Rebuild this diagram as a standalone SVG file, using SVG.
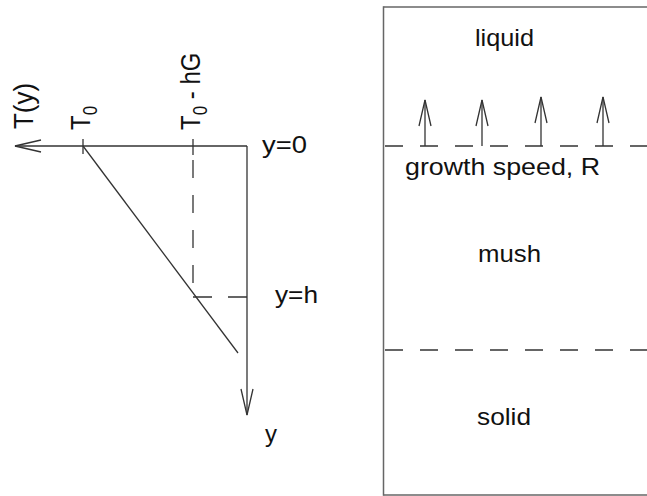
<svg xmlns="http://www.w3.org/2000/svg" width="647" height="496" viewBox="0 0 647 496">
  <defs>
    <style>
      .ln { stroke: #333; stroke-width: 1.3; fill: none; }
      .dash { stroke: #333; stroke-width: 1.3; fill: none; stroke-dasharray: 18 17; }
      .box { stroke: #666; stroke-width: 1.5; fill: none; }
      .t { font-family: "Liberation Sans", Arial, sans-serif; font-size: 24px; fill: #111; }
      .sub { font-size: 17px; }
    </style>
    <marker id="open" markerUnits="userSpaceOnUse" markerWidth="30" markerHeight="16" viewBox="-27 -8 30 16" refX="0" refY="0" orient="auto">
      <path d="M-26,-6 L0,0 L-26,6" fill="none" stroke="#333" stroke-width="1.3"/>
    </marker>
  </defs>
  <rect width="647" height="496" fill="#fff"/>

  <g id="temperature-plot">
    <g id="axes">
      <line class="ln" x1="247" y1="146" x2="15" y2="146" marker-end="url(#open)"/>
      <line class="ln" x1="247" y1="146" x2="247" y2="415" marker-end="url(#open)"/>
    </g>
    <g id="ticks">
      <line class="ln" x1="83" y1="139" x2="83" y2="154"/>
      <line class="ln" x1="193" y1="139" x2="193" y2="155"/>
    </g>
    <g id="profile">
      <line class="ln" x1="83" y1="146" x2="238" y2="353"/>
      <line class="dash" x1="193" y1="160" x2="193" y2="297"/>
      <line class="ln" x1="247" y1="297" x2="193" y2="297" style="stroke-dasharray:19 16"/>
    </g>
    <g id="axis-labels">
      <text class="t" transform="translate(33,129) rotate(-90) scale(1,1.15)" textLength="46" lengthAdjust="spacingAndGlyphs">T(y)</text>
      <text class="t" transform="translate(90,130) rotate(-90) scale(1,1.15)">T<tspan class="sub" dy="6">0</tspan></text>
      <text class="t" transform="translate(200,130) rotate(-90) scale(1,1.15)">T<tspan class="sub" dy="6">0</tspan><tspan dy="-6"> - hG</tspan></text>
      <text class="t" x="262" y="153" textLength="45" lengthAdjust="spacingAndGlyphs">y=0</text>
      <text class="t" x="275" y="303" textLength="43" lengthAdjust="spacingAndGlyphs">y=h</text>
      <text class="t" x="265" y="442">y</text>
    </g>
  </g>

  <g id="solidification-box">
    <g id="box-outline">
      <line class="box" x1="383.5" y1="7" x2="647" y2="7"/>
      <line class="box" x1="383.5" y1="6.25" x2="383.5" y2="495.75"/>
      <line class="box" x1="383.5" y1="495" x2="647" y2="495"/>
    </g>
    <g id="liquid">
      <text class="t" x="475" y="46" textLength="59" lengthAdjust="spacingAndGlyphs">liquid</text>
    </g>
    <g id="front">
      <line class="dash" x1="385" y1="146" x2="647" y2="146"/>
      <text class="t" x="405" y="175" textLength="195" lengthAdjust="spacingAndGlyphs">growth speed, R</text>
    </g>
    <g id="mush">
      <text class="t" x="478" y="262" textLength="63" lengthAdjust="spacingAndGlyphs">mush</text>
    </g>
    <g id="solid-boundary">
      <line class="dash" x1="385" y1="350" x2="647" y2="350"/>
    </g>
    <g id="solid">
      <text class="t" x="477" y="425" textLength="54" lengthAdjust="spacingAndGlyphs">solid</text>
    </g>
  </g>

  <g id="connectors">
    <line class="ln" x1="425" y1="146" x2="425" y2="100" marker-end="url(#open)"/>
    <line class="ln" x1="482" y1="146" x2="482" y2="100" marker-end="url(#open)"/>
    <line class="ln" x1="541" y1="146" x2="541" y2="97" marker-end="url(#open)"/>
    <line class="ln" x1="603" y1="146" x2="603" y2="97" marker-end="url(#open)"/>
  </g>
</svg>
